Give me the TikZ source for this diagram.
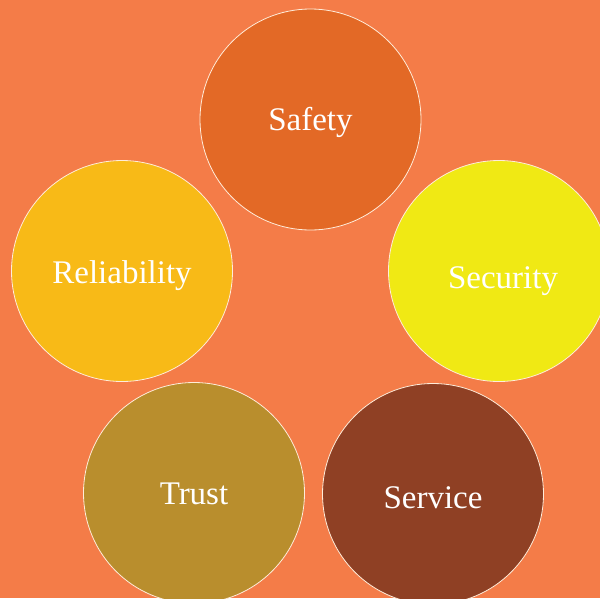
\documentclass[tikz,border=0pt]{standalone}
\usepackage{fontspec}
\setmainfont{Liberation Serif}
\definecolor{bgorange}{HTML}{F47C48}
\definecolor{safetycol}{HTML}{E36926}
\definecolor{reliabcol}{HTML}{F8BA17}
\definecolor{securcol}{HTML}{F0E914}
\definecolor{trustcol}{HTML}{B98E2D}
\definecolor{servcol}{HTML}{8F4024}
\tikzset{
  petal/.style={circle, minimum size=221pt, inner sep=0pt, draw=white!85!orange, line width=0.8pt,
    text=white, text height=22pt, text depth=0pt, font=\fontsize{33}{36}\selectfont}
}
\begin{document}
\begin{tikzpicture}[x=1pt,y=-1pt]
  % canvas
  \useasboundingbox (0,0) rectangle (600,598);
  \clip (0,0) rectangle (600,598);
  \fill[bgorange] (0,0) rectangle (600,598);
  % top
  \node[petal, fill=safetycol] (safety) at (310.5,119.5) {Safety};
  % middle row
  \node[petal, fill=reliabcol] (reliab) at (122,271) {\raisebox{-1pt}{Reliability}};
  \node[petal, fill=securcol] (secur) at (499,271) {\hspace*{8pt}\raisebox{-6pt}{Security}};
  % bottom row
  \node[petal, fill=trustcol] (trust) at (194,493) {Trust};
  \node[petal, fill=servcol] (serv) at (433,494) {\raisebox{-3pt}{Service}};
\end{tikzpicture}
\end{document}
